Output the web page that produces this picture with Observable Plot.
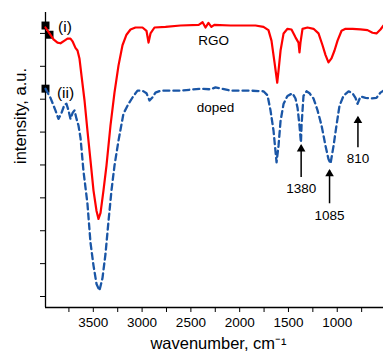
<!DOCTYPE html>
<html>
<head>
<meta charset="utf-8">
<script src="https://cdn.jsdelivr.net/npm/d3@7"></script>
<script src="https://cdn.jsdelivr.net/npm/@observablehq/plot@0.6"></script>
<style>
  html, body { margin: 0; padding: 0; background: #fff; }
  svg { display: block; }
</style>
</head>
<body>
<div id="chart"></div>
<script>
// ---- data (wavenumber cm^-1, intensity a.u.) ----
const rgoWavenumber = [3990,3949,3908,3867,3836,3795,3765,3734,3713,3683,3662,3642,3621,3590,3560,3529,3498,3467,3447,3426,3396,3365,3324,3283,3242,3201,3160,3119,3068,2996,2955,2934,2914,2873,2760,2606,2420,2380,2350,2320,2290,2260,2094,1838,1756,1705,1674,1643,1615,1602,1581,1550,1510,1469,1428,1397,1387,1377,1356,1305,1243,1192,1151,1120,1090,1059,1028,997,956,915,843,762,690,639,598,557,526];
const rgoIntensity  = [4.09,4.00,3.91,3.86,3.85,3.89,3.92,3.92,3.88,3.78,3.74,3.62,3.36,2.98,2.52,2.07,1.61,1.30,1.18,1.27,1.61,1.99,2.60,3.10,3.51,3.82,3.98,4.06,4.09,4.09,4.04,3.86,4.00,4.09,4.10,4.12,4.13,4.17,4.09,4.16,4.10,4.13,4.12,4.12,4.10,4.05,3.89,3.56,3.25,3.43,3.74,4.00,4.07,4.06,3.94,3.86,3.71,3.86,4.07,4.09,4.07,4.00,3.82,3.67,3.56,3.62,3.74,3.89,4.04,4.07,4.07,4.06,4.05,4.01,4.00,4.06,4.12];

const dopedWavenumber = [3990,3939,3888,3857,3826,3795,3775,3754,3734,3713,3693,3672,3652,3631,3601,3560,3529,3498,3467,3437,3406,3375,3344,3314,3283,3242,3191,3139,3088,3047,2996,2955,2924,2893,2863,2811,2606,2401,2299,2248,2094,1889,1756,1715,1684,1653,1622,1602,1581,1550,1510,1459,1428,1407,1387,1372,1366,1346,1315,1284,1243,1202,1161,1120,1090,1069,1038,1008,977,936,884,843,813,792,762,710,659,598,557,526];
const dopedIntensity  = [3.16,3.02,2.83,2.70,2.79,2.92,2.93,2.83,2.70,2.79,2.83,2.70,2.60,2.41,1.91,1.41,0.82,0.47,0.19,0.09,0.28,0.65,1.15,1.61,1.99,2.37,2.78,2.93,3.05,3.13,3.13,3.09,2.98,3.03,3.10,3.13,3.13,3.16,3.15,3.18,3.13,3.13,3.12,3.06,2.83,2.52,2.04,2.29,2.67,2.93,3.05,3.09,3.01,2.87,2.60,2.34,2.60,3.05,3.12,3.09,3.01,2.83,2.60,2.29,2.09,2.02,2.29,2.60,2.90,3.05,3.12,3.09,3.02,2.93,3.04,3.02,3.01,3.02,3.10,3.13];

// start-point square markers
const markerWavenumber = [3990, 3949, 3990];
const markerIntensity  = [4.12, 3.98, 3.16];

// curve labels
const labelText       = ["(i)", "(ii)", "RGO", "doped"];
const labelWavenumber = [3790, 3785, 2268, 2248];
const labelIntensity  = [4.09, 3.10, 3.89, 2.87];

// peak arrows
const peakText       = ["1380", "1085", "810"];
const peakWavenumber = [1370, 1079, 788];
const arrowTail      = [1.81, 1.41, 2.26];
const arrowTip       = [2.29, 1.91, 2.72];
const peakLabelY     = [1.64, 1.23, 2.10];

// ticks
const xMajorTicks = [3500, 3000, 2500, 2000, 1500, 1000];
const xMinorTicks = [3750, 3250, 2750, 2250, 1750, 1250, 750];
const yTicks = [0, 0.5, 1, 1.5, 2, 2.5, 3, 3.5, 4];
const xDomain = [3990, 526];
const yDomain = [-0.167, 4.318];

// ---- build tables ----
const rgo = rgoWavenumber.map((w, i) => ({w, v: rgoIntensity[i]}));
const doped = dopedWavenumber.map((w, i) => ({w, v: dopedIntensity[i]}));
const markers = markerWavenumber.map((w, i) => ({w, v: markerIntensity[i]}));
const labels = labelText.map((t, i) => ({t, w: labelWavenumber[i], v: labelIntensity[i]}));
const peaks = peakText.map((t, i) => ({t, w: peakWavenumber[i], tail: arrowTail[i], tip: arrowTip[i], ly: peakLabelY[i]}));

const FONT = "Liberation Sans, Arial, Helvetica, sans-serif";

const chart = Plot.plot({
  width: 383,
  height: 356,
  marginLeft: 45,
  marginRight: 0,
  marginTop: 12,
  marginBottom: 49,
  style: {fontFamily: FONT, fontSize: "13.5px", color: "#000", background: "#fff"},
  x: {domain: xDomain},
  y: {domain: yDomain},
  marks: [
    Plot.axisX({ticks: xMajorTicks, tickSize: 5, tickPadding: 5, tickFormat: d => String(d), label: null, fontSize: 13.5}),
    Plot.axisX({ticks: xMinorTicks, tickSize: 5, tickFormat: () => "", label: null}),
    Plot.axisY({ticks: yTicks, tickSize: 5, tickFormat: () => "", label: null}),
    Plot.ruleY([yDomain[0]], {stroke: "#000", strokeWidth: 1.3}),
    Plot.ruleX([xDomain[0]], {stroke: "#000", strokeWidth: 1.3}),
    Plot.dot(markers, {x: "w", y: "v", symbol: "square", r: 4.5, fill: "#000", stroke: "none"}),
    Plot.line(rgo, {x: "w", y: "v", stroke: "#ff0000", strokeWidth: 2.2, curve: "linear"}),
    Plot.line(doped, {x: "w", y: "v", stroke: "#1a56a6", strokeWidth: 2.3, strokeDasharray: "6,4", curve: "linear"}),
    Plot.text(labels, {x: "w", y: "v", text: "t", fontSize: (d, i) => (i < 2 ? 15.5 : 13.5), fill: "#000"}),
    Plot.ruleX(peaks, {x: "w", y1: "tail", y2: "tip", stroke: "#000", strokeWidth: 1.5}),
    Plot.dot(peaks, {x: "w", y: "tip", symbol: "triangle", r: 3.2, fill: "#000", stroke: "none", dy: 3}),
    Plot.text(peaks, {x: "w", y: "ly", text: "t", fontSize: 13.5, fill: "#000"}),
    Plot.text(["wavenumber, cm\u207B\u00B9"], {frameAnchor: "bottom", dx: 4, dy: 41, fontSize: 16.5, fill: "#000"}),
    Plot.text(["intensity, a.u."], {frameAnchor: "left", rotate: -90, dx: -25, dy: 4, fontSize: 16.5, fill: "#000"})
  ]
});
document.getElementById("chart").appendChild(chart);
</script>
</body>
</html>
